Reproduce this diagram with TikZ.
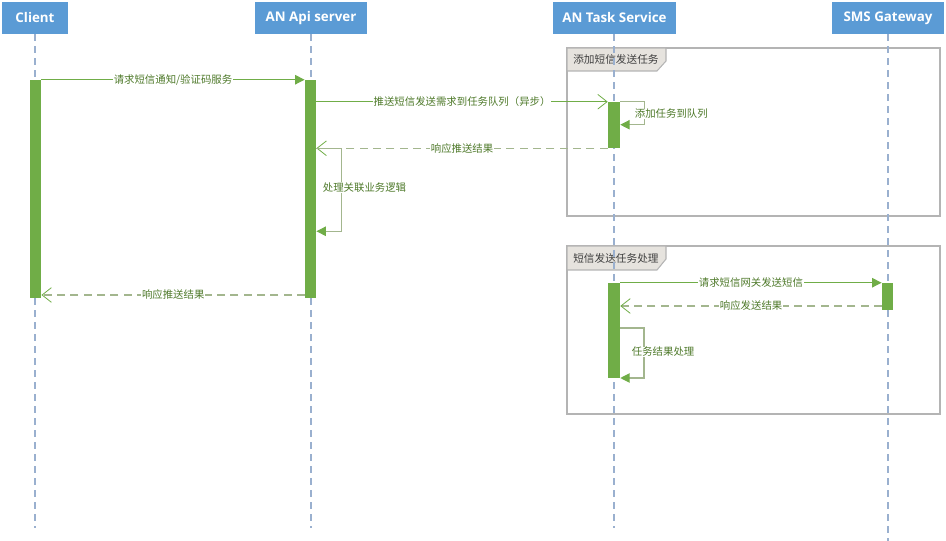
\documentclass[tikz,border=0pt]{standalone}
\usepackage{fontspec}
\setmainfont{Open Sans}
\newfontfamily\cjk{Noto Sans CJK SC}
\usetikzlibrary{arrows.meta}
\definecolor{hdr}{HTML}{5B9BD5}
\definecolor{bar}{HTML}{70AD47}
\definecolor{msg}{HTML}{70AD47}
\definecolor{ret}{HTML}{A3B68E}
\definecolor{lbl}{HTML}{4F7A2B}
\definecolor{life}{HTML}{9AB0CF}
\definecolor{frm}{HTML}{B4B4B4}
\definecolor{tabfill}{HTML}{E6E3DE}
\tikzset{
  header/.style={fill=hdr, text=white, font=\bfseries\fontsize{10}{12}\selectfont, minimum height=24pt, inner sep=0pt},
  lifeline/.style={draw=life, line width=0.8pt, dash pattern=on 5pt off 4pt},
  actbar/.style={fill=bar, draw=none, minimum width=8.5pt, inner sep=0pt},
  callmsg/.style={draw=msg, line width=0.8pt, -{Triangle[length=7pt,width=7pt]}},
  asyncmsg/.style={draw=msg, line width=0.8pt, -{Straight Barb[length=7pt,width=11pt,line width=0.6pt]}},
  retmsg/.style={draw=ret, line width=0.8pt, dash pattern=on 6pt off 4pt, -{Straight Barb[length=7pt,width=11pt,line width=0.6pt,color=msg]}},
  selfmsg/.style={draw=ret, line width=0.8pt, -{Triangle[length=7pt,width=7pt,color=msg]}},
  mlabel/.style={fill=white, text=lbl, font=\cjk\fontsize{7.8}{9}\selectfont, inner sep=0.5pt},
  frame/.style={draw=frm, line width=0.8pt},
  tab/.style={draw=frm, fill=tabfill, line width=0.8pt},
  tablabel/.style={text=black!75, font=\cjk\fontsize{8}{10}\selectfont, anchor=west, inner sep=0pt}
}
\begin{document}
\begin{tikzpicture}[x=0.75pt, y=-0.75pt]
\useasboundingbox (0,0) rectangle (946,541);
% frames
\draw[frame] (567,48) rectangle (940,216);
\draw[tab] (567,48) -- (666,48) -- (666,61) -- (657,71) -- (567,71) -- cycle;
\node[tablabel] (t1) at (573,59.5) {添加短信发送任务};
\draw[frame] (567,246) rectangle (940,414);
\draw[tab] (567,246) -- (666,246) -- (666,259) -- (657,270) -- (567,270) -- cycle;
\node[tablabel] (t2) at (573,258) {短信发送任务处理};
% headers
\node[header, minimum width=49.5pt] (cl) at (35,18) {Client};
\node[header, minimum width=84pt] (api) at (311,18) {AN Api server};
\node[header, minimum width=92.25pt] (task) at (614.5,18) {AN Task Service};
\node[header, minimum width=84pt] (sms) at (888,18) {SMS Gateway};
% lifelines
\coordinate (lcl) at (35,528);
\coordinate (lapi) at (311,528);
\coordinate (ltask) at (614,528);
\coordinate (lsms) at (888,541);
\draw[lifeline] (cl.south -| lcl) -- (lcl);
\draw[lifeline] (api.south -| lapi) -- (lapi);
\draw[lifeline] (task.south -| ltask) -- (ltask);
\draw[lifeline] (sms.south -| lsms) -- (lsms);
% activation bars
\node[actbar, minimum height=163.5pt] (bcl) at (35.5,189) {};
\node[actbar, minimum height=163.5pt] (bapi) at (310.5,189) {};
\node[actbar, minimum width=9pt, minimum height=34.5pt] (bt1) at (614,125) {};
\node[actbar, minimum width=9pt, minimum height=71.25pt] (bt2) at (614,330.5) {};
\node[actbar, minimum height=20.25pt] (bsms) at (887.5,296.5) {};
% messages
\draw[callmsg] (bcl.north east) -- node[mlabel] {请求短信通知/验证码服务} (bapi.north west);
\draw[asyncmsg] (bapi.east |- bt1.north) -- node[mlabel] {推送短信发送需求到任务队列（异步）} (bt1.north west);
\draw[selfmsg] (bt1.north east) -- ++(24,0) coordinate (s1a) -- ++(0,23) coordinate (s1b) -- (bt1.east |- s1b);
\node[mlabel, anchor=west] (l3) at (634,114) {添加任务到队列};
\draw[retmsg] (bt1.south west) -- node[mlabel] {响应推送结果} (bapi.east |- bt1.south);
\draw[selfmsg] (bapi.east |- bt1.south) -- ++(25,0) coordinate (s2a) -- ++(0,83) coordinate (s2b) -- (bapi.east |- s2b);
\node[mlabel, anchor=west] (l5) at (322,188) {处理关联业务逻辑};
\coordinate (r6) at (305,295);
\draw[retmsg] (r6) -- node[mlabel] {响应推送结果} (bcl.east |- r6);
\draw[callmsg] (bt2.north east) -- node[mlabel] {请求短信网关发送短信} (bsms.north west);
\coordinate (r8) at (882,306);
\draw[retmsg] (r8) -- node[mlabel] {响应发送结果} (bt2.east |- r8);
\coordinate (s3) at (620,328);
\draw[selfmsg] (s3) -- ++(24,0) coordinate (s3a) -- ++(0,50) coordinate (s3b) -- (bt2.east |- s3b);
\node[mlabel, anchor=west] (l9) at (631,352) {任务结果处理};
\end{tikzpicture}
\end{document}
